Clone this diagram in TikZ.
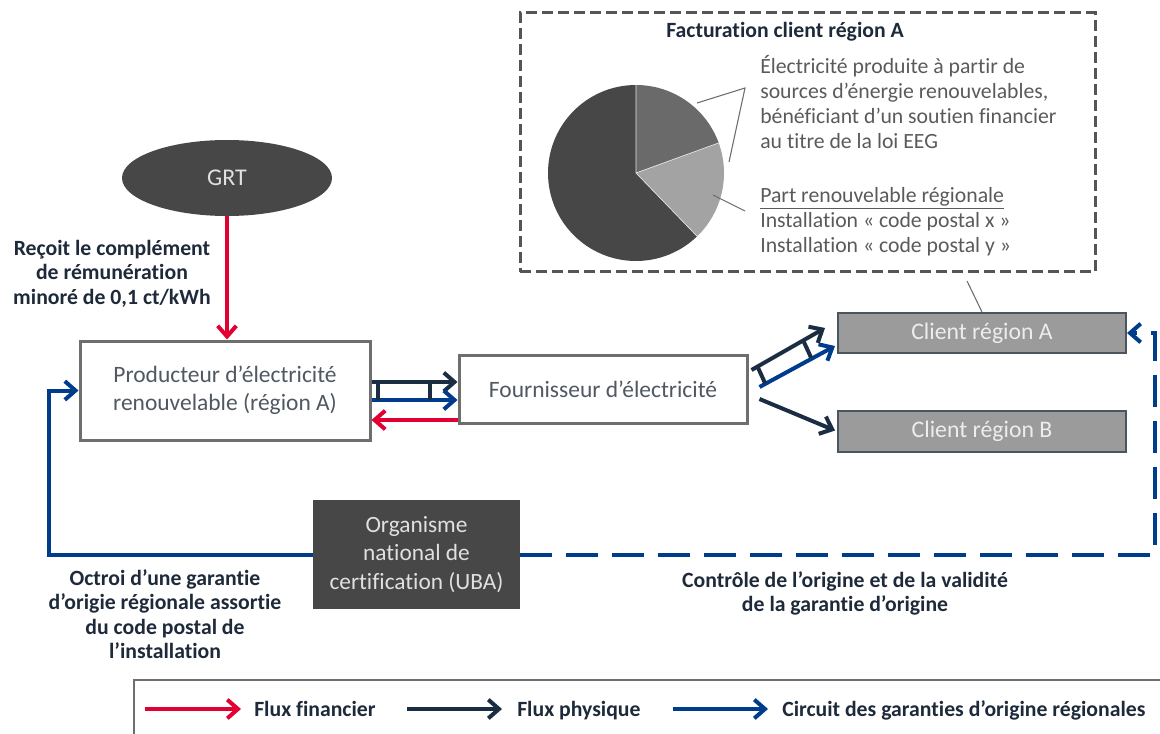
\documentclass[tikz,border=0pt]{standalone}
\usepackage{fontspec}
\setmainfont{Carlito}[Ligatures=NoCommon]
\usetikzlibrary{arrows.meta,calc,shapes.geometric}
\definecolor{cred}{RGB}{226,0,50}
\definecolor{cnavy}{RGB}{27,45,66}
\definecolor{cblue}{RGB}{0,60,140}
\definecolor{cdark}{RGB}{71,71,71}
\definecolor{cmid}{RGB}{106,106,106}
\definecolor{clight}{RGB}{163,163,163}
\definecolor{cclient}{RGB}{155,155,155}
\definecolor{cclientb}{RGB}{74,85,96}
\definecolor{cborder}{RGB}{110,110,110}
\definecolor{ctext}{RGB}{80,88,98}
\definecolor{clabel}{RGB}{30,42,58}
\definecolor{cpie}{RGB}{90,90,90}
\definecolor{cdash}{RGB}{85,85,85}
\begin{document}
\begin{tikzpicture}[x=0.75pt,y=-0.75pt,
  ar/.style={line width=3pt,-{Straight Barb[length=8pt,width=14pt]}},
  rung/.style={line width=3pt,cnavy},
  box/.style={draw=cborder,line width=2.25pt,fill=white,text=ctext,align=center,inner sep=0pt,
    font=\fontsize{17.6}{21}\selectfont},
  darkbox/.style={fill=cdark,text=white!88!black,align=center,inner sep=0pt,
    font=\fontsize{17.5}{21.4}\selectfont},
  client/.style={draw=cclientb,line width=1.5pt,fill=cclient,text=white!93!black,inner sep=0pt,
    minimum width=216pt,minimum height=30pt,font=\fontsize{17.8}{21}\selectfont},
  lbl/.style={text=clabel,align=center,inner sep=0pt,font=\bfseries\fontsize{16.3}{18.4}\selectfont},
  pietxt/.style={text=cpie,align=left,anchor=west,inner sep=0pt,font=\fontsize{16.3}{18.75}\selectfont},
  legtxt/.style={text=clabel,anchor=base west,inner sep=0pt,font=\bfseries\fontsize{16.3}{18}\selectfont},
  callout/.style={draw=gray!85!black,line width=0.8pt}
]
\useasboundingbox (0,0) rectangle (1160,734);
\clip (0,0) rectangle (1160,734);

% ---- billing box with pie ----
\node[draw=cdash,line width=2.25pt,dash pattern=on 8.25pt off 3.75pt,
      minimum width=431.25pt,minimum height=194.25pt,inner sep=0pt] (fact) at (807.5,142.5) {};
\node[lbl] (ftitle) at (785,32) {Facturation client région A};
\begin{scope}[shift={(636,173)},x=1pt,y=1pt]
  \fill[cdark] (0,0) -- (90:66) arc[start angle=90,end angle=314,radius=66pt] -- cycle;
  \fill[cmid] (0,0) -- (20:66) arc[start angle=20,end angle=90,radius=66pt] -- cycle;
  \fill[clight] (0,0) -- (-46:66) arc[start angle=-46,end angle=20,radius=66pt] -- cycle;
  \draw[white!80!gray,line width=0.5pt] (90:66) -- (0,0) -- (20:66) (0,0) -- (-46:66);
\end{scope}
\node[pietxt] (t1) at (760,102.5) {Électricité produite à partir de\\sources d’énergie renouvelables,\\bénéficiant d’un soutien financier\\au titre de la loi EEG};
\node[pietxt] (t2) at (760,222) {\underline{Part renouvelable régionale}\\Installation « code postal x »\\Installation « code postal y »};
\coordinate (c1a) at (697,103);
\coordinate (c1b) at (745,88);
\coordinate (c1c) at (729,162);
\coordinate (c2a) at (713,195);
\coordinate (c2b) at (745,211);
\draw[callout] (c1a) -- (c1b) -- (c1c);
\draw[callout] (c2a) -- (c2b);

% ---- nodes ----
\node[ellipse,fill=cdark,text=white!88!black,minimum width=157.5pt,minimum height=57pt,inner sep=0pt,
      font=\fontsize{18}{21}\selectfont] (grt) at (227,178) {GRT};
\node[box,minimum width=217.5pt,minimum height=74.25pt] (prod) at (225,390.5)
  {Producteur d’électricité\\renouvelable (région A)};
\node[box,minimum width=216pt,minimum height=51pt] (sup) at (603,389) {Fournisseur d’électricité};
\node[client] (cliA) at (982,333) {Client région A};
\node[client,minimum height=30.75pt] (cliB) at (982,431.5) {Client région B};
\node[darkbox,minimum width=155.25pt,minimum height=81.75pt] (org) at (416.5,554.5)
  {Organisme\\national de\\certification (UBA)};

\coordinate (cl) at (967,281);
\draw[callout] (cl) -- (cliA.north);

% ---- labels ----
\node[lbl] (lgrt) at (112,273.5) {Reçoit le complément\\de rémunération\\minoré de 0,1 ct/kWh};
\node[lbl] (loct) at (165,614) {Octroi d’une garantie\\d’origie régionale assortie\\du code postal de\\l’installation};
\node[lbl] (lctl) at (845,593.5) {Contrôle de l’origine et de la validité\\de la garantie d’origine};

% ---- connectors ----
\draw[ar,cred] (grt.south) -- (grt.south |- prod.north);
\draw[ar,cnavy] (prod.east |- 0,382) -- (sup.west |- 0,382);
\draw[ar,cblue] (prod.east |- 0,400) -- (sup.west |- 0,400);
\draw[rung] (378,382) -- (378,400);
\draw[rung] (430,382) -- (430,400);
\draw[ar,cred] (sup.west |- 0,420) -- (prod.east |- 0,420);

\draw[ar,cnavy] ($(sup.east)+(3,-19)$) -- ($(cliA.west)+(-12,-5)$);
\draw[ar,cblue] ($(sup.east)+(11,-2)$) -- ($(cliA.west)+(-2,13)$);
\draw[rung] (757,365.5) -- (765,383);
\draw[rung] (803,340) -- (811,357.5);
\draw[ar,cnavy] ($(sup.east)+(11,10)$) -- ($(cliB.west)+(-2,-1)$);

\draw[ar,cblue] (org.west) -| ($(prod.west)+(-30,0)$) -- (prod.west);
\draw[ar,cblue,dash pattern=on 24pt off 10.5pt] (org.east) -| ($(cliA.east)+(28,0)$) -- (cliA.east);

% ---- legend ----
\node[draw=cborder,line width=1.5pt,minimum width=780pt,minimum height=60pt,inner sep=0pt,anchor=north west] (leg) at (133,679) {};
\coordinate (l1a) at (145,709); \coordinate (l1b) at (241,709);
\coordinate (l2a) at (407,709); \coordinate (l2b) at (502,709);
\coordinate (l3a) at (673,709); \coordinate (l3b) at (768,709);
\draw[ar,cred] (l1a) -- (l1b);
\draw[ar,cnavy] (l2a) -- (l2b);
\draw[ar,cblue] (l3a) -- (l3b);
\node[legtxt] (lt1) at (254,716) {Flux financier};
\node[legtxt] (lt2) at (517,716) {Flux physique};
\node[legtxt] (lt3) at (782,716) {Circuit des garanties d’origine régionales};
\end{tikzpicture}
\end{document}
